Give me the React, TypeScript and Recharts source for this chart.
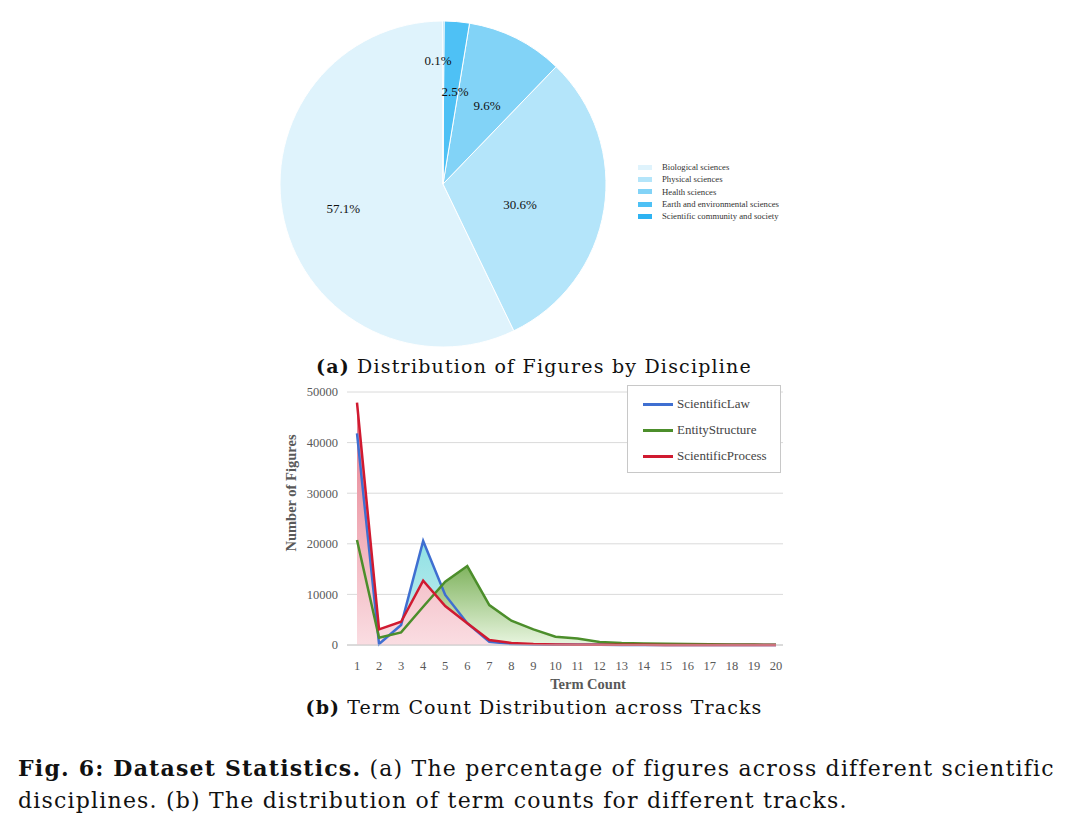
import {
  PieChart, Pie, Cell,
  ComposedChart, Area, Line, XAxis, YAxis, CartesianGrid,
} from 'recharts';

const disciplines = [
  'Biological sciences',
  'Physical sciences',
  'Health sciences',
  'Earth and environmental sciences',
  'Scientific community and society',
];
const shares = [57.1, 30.6, 9.6, 2.5, 0.1];
const pieColors = ['#DFF3FC', '#B4E5FA', '#82D3F7', '#4EC1F5', '#2EB3F2'];
// label radius (fraction of R) and angle shift per slice
const labelRadius = [0.63, 0.49, 0.555, 0.57, 0.76];
const labelShift = [1.2, -6, -2.5, -2.6, 2.5];

const termCounts = [1, 2, 3, 4, 5, 6, 7, 8, 9, 10, 11, 12, 13, 14, 15, 16, 17, 18, 19, 20];
const scientificLaw = [41800, 200, 3950, 20550, 9900, 4300, 650, 200, 100, 60, 40, 30, 20, 15, 10, 10, 5, 5, 5, 5];
const entityStructure = [20750, 1450, 2500, 7550, 12500, 15600, 7900, 4800, 3100, 1650, 1300, 600, 400, 300, 250, 200, 150, 100, 80, 50];
const scientificProcess = [47900, 3100, 4600, 12700, 7700, 4300, 1000, 400, 200, 100, 60, 50, 40, 30, 20, 20, 10, 10, 10, 10];
const yTicks = [0, 10000, 20000, 30000, 40000, 50000];

const tracks = [
  { key: 'law', name: 'ScientificLaw', color: '#3F6FD1', grad: 'gLaw' },
  { key: 'entity', name: 'EntityStructure', color: '#4C8E2B', grad: 'gEntity' },
  { key: 'process', name: 'ScientificProcess', color: '#D01A30', grad: 'gProcess' },
];

const pieData = disciplines.map((name, i) => ({ name, value: shares[i] }));
const lineData = termCounts.map((t, i) => ({
  term: t,
  law: scientificLaw[i],
  entity: entityStructure[i],
  process: scientificProcess[i],
}));

const serif = '"Liberation Serif", "Times New Roman", serif';
const cmLike = '"DejaVu Serif", serif';
const RAD = Math.PI / 180;

function PieLabel(props: any) {
  const { cx, cy, midAngle, outerRadius, index, value } = props;
  const a = (midAngle + labelShift[index]) * RAD;
  const r = outerRadius * labelRadius[index];
  const x = cx + r * Math.cos(-a);
  const y = cy + r * Math.sin(-a);
  return (
    <text x={x} y={y} textAnchor="middle" dominantBaseline="central"
          fontFamily={serif} fontSize={13} fill="#111">
      {value}%
    </text>
  );
}

function PieLegend() {
  return (
    <div style={{ position: 'absolute', left: 638, top: 161, whiteSpace: 'nowrap', fontFamily: serif, fontSize: 8.7, color: '#333' }}>
      {disciplines.map((d, i) => (
        <div key={d} style={{ display: 'flex', alignItems: 'center', height: 12.3 }}>
          <span style={{ width: 14, height: 5, background: pieColors[i], marginRight: 10, flexShrink: 0 }} />
          <span>{d}</span>
        </div>
      ))}
    </div>
  );
}

function LineLegend() {
  return (
    <div style={{
      position: 'absolute', left: 627, top: 385, width: 152, height: 86,
      border: '1px solid #C8C8C8', background: '#fff',
      fontFamily: serif, fontSize: 13, color: '#444',
    }}>
      {tracks.map((t, i) => (
        <div key={t.key} style={{ display: 'flex', alignItems: 'center', position: 'absolute', left: 15, top: 11 + i * 26, height: 14 }}>
          <span style={{ width: 30, height: 3, background: t.color, marginRight: 4 }} />
          <span>{t.name}</span>
        </div>
      ))}
    </div>
  );
}

export default function App() {
  return (
    <div style={{ position: 'absolute', left: 0, top: 0, width: 1068, height: 829, background: '#fff' }}>
      <div style={{ position: 'absolute', left: 0, top: 0 }}>
        <PieChart width={1068} height={355} margin={{ top: 0, right: 0, bottom: 0, left: 0 }}>
          <Pie data={pieData} dataKey="value" cx={443} cy={184} outerRadius={163}
               startAngle={90} endAngle={450} stroke="#fff" strokeWidth={1}
               label={PieLabel} labelLine={false} isAnimationActive={false}>
            {pieData.map((d, i) => <Cell key={d.name} fill={pieColors[i]} />)}
          </Pie>
        </PieChart>
      </div>
      <PieLegend />

      <div style={{ position: 'absolute', left: 0, top: 355, width: 1068, textAlign: 'center', fontFamily: cmLike, fontSize: 19, letterSpacing: 1.2, color: '#111' }}>
        <b>(a)</b> Distribution of Figures by Discipline
      </div>

      <div style={{ position: 'absolute', left: 0, top: 380 }}>
        <ComposedChart width={1068} height={320} data={lineData}
                       margin={{ top: 12, right: 285, left: 287, bottom: 25 }}>
          <defs>
            <linearGradient id="gLaw" x1="0" y1="0" x2="0" y2="1">
              <stop offset="0%" stopColor="#4ED2D4" />
              <stop offset="100%" stopColor="#CDEFF2" />
            </linearGradient>
            <linearGradient id="gEntity" x1="0" y1="0" x2="0" y2="1">
              <stop offset="0%" stopColor="#5E9E35" />
              <stop offset="100%" stopColor="#E8F5DF" />
            </linearGradient>
            <linearGradient id="gProcess" x1="0" y1="0" x2="0" y2="1">
              <stop offset="0%" stopColor="#E57A8A" />
              <stop offset="100%" stopColor="#FADDE2" />
            </linearGradient>
          </defs>
          <CartesianGrid vertical={false} stroke="#DADADA" />
          <XAxis dataKey="term" type="number" domain={[1, 20]} ticks={termCounts}
                 padding={{ left: 10, right: 7 }} interval={0}
                 tick={{ fontFamily: serif, fontSize: 12.5, fill: '#595959' }}
                 tickLine={false} axisLine={{ stroke: '#C8C8C8' }} tickMargin={10} height={30} />
          <YAxis domain={[0, 50000]} ticks={yTicks} width={60}
                 tick={{ fontFamily: serif, fontSize: 12.5, fill: '#595959' }}
                 tickLine={false} axisLine={false} tickSize={0} tickMargin={9} />
          {tracks.map((t) => (
            <Area key={t.key + 'a'} dataKey={t.key} type="linear" stroke="none"
                  fill={`url(#${t.grad})`} fillOpacity={1} isAnimationActive={false} legendType="none" />
          ))}
          {tracks.map((t) => (
            <Line key={t.key} dataKey={t.key} name={t.name} type="linear" stroke={t.color}
                  strokeWidth={2.5} dot={false} activeDot={false} isAnimationActive={false} />
          ))}
          <text x={291} y={113} transform="rotate(-90 291 113)" textAnchor="middle"
                dominantBaseline="central" fontFamily={serif} fontSize={14.5} fontWeight="bold" fill="#595959">
            Number of Figures
          </text>
          <text x={588} y={304} textAnchor="middle" dominantBaseline="central"
                fontFamily={serif} fontSize={14.5} fontWeight="bold" fill="#595959">
            Term Count
          </text>
        </ComposedChart>
      </div>
      <LineLegend />

      <div style={{ position: 'absolute', left: 0, top: 696, width: 1068, textAlign: 'center', fontFamily: cmLike, fontSize: 19, letterSpacing: 1.1, color: '#111' }}>
        <b>(b)</b> Term Count Distribution across Tracks
      </div>

      <div style={{ position: 'absolute', left: 18, top: 752, width: 1050, fontFamily: cmLike, fontSize: 22, letterSpacing: 1.2, color: '#111', lineHeight: '32px', whiteSpace: 'nowrap' }}>
        <div><b>Fig. 6: Dataset Statistics.</b> (a) The percentage of figures across different scientific</div>
        <div>disciplines. (b) The distribution of term counts for different tracks.</div>
      </div>
    </div>
  );
}
